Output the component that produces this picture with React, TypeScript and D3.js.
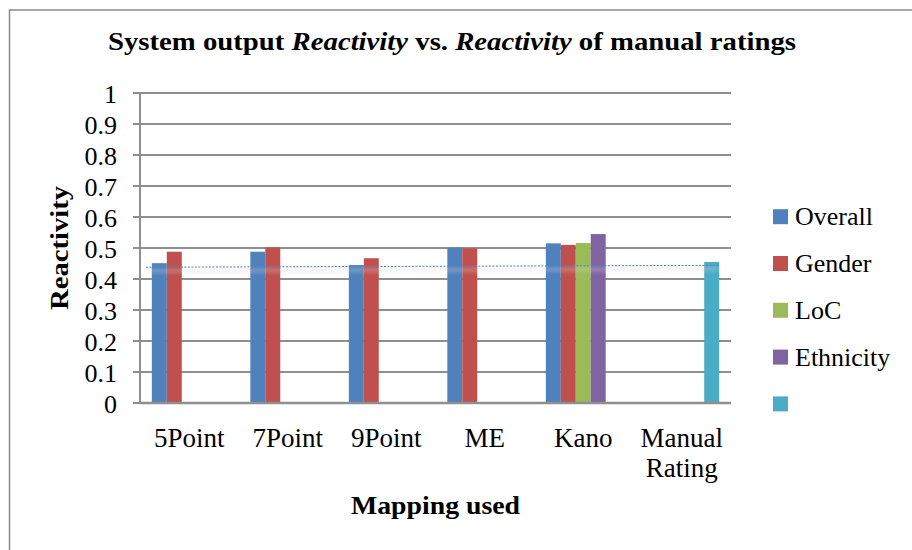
import React from "react";
import * as d3 from "d3";

const categories = ["5Point", "7Point", "9Point", "ME", "Kano", "Manual Rating"];
const seriesNames = ["Overall", "Gender", "LoC", "Ethnicity", ""];
const overall = [0.451, 0.488, 0.445, 0.501, 0.515, null];
const gender = [0.488, 0.502, 0.467, 0.499, 0.51, null];
const loc = [null, null, null, null, 0.516, null];
const ethnicity = [null, null, null, null, 0.545, null];
const manualRating = [null, null, null, null, null, 0.455];
const seriesColors = ["#4f81bd", "#c0504d", "#9bbb59", "#8064a2", "#4bacc6"];
const yTicks = [0, 0.1, 0.2, 0.3, 0.4, 0.5, 0.6, 0.7, 0.8, 0.9, 1];
// dotted reference line: [category-position, value]
const refLine: [number, number][] = [
  [0.06, 0.438],
  [5.87, 0.444],
];

const W = 912;
const H = 550;
const plot = { left: 140, right: 731, top: 93, bottom: 403 };
const FONT = "'Liberation Serif', 'Times New Roman', serif";

export default function App() {
  const allSeries = [overall, gender, loc, ethnicity, manualRating];
  const x = d3
    .scaleBand<string>()
    .domain(categories)
    .range([plot.left, plot.right])
    .paddingInner(0.24)
    .paddingOuter(0.12);
  const xs = d3
    .scaleBand<number>()
    .domain(d3.range(allSeries.length))
    .range([0, x.bandwidth()])
    .padding(0);
  const y = d3.scaleLinear().domain([0, 1]).range([plot.bottom, plot.top]);
  const xc = d3.scaleLinear().domain([0, categories.length]).range([plot.left, plot.right]);
  const lineGen = d3
    .line<[number, number]>()
    .x((d) => xc(d[0]))
    .y((d) => y(d[1]));

  const gridColor = "#8f8f8f";
  const legendY0 = 216.7;
  const legendStep = 46.8;

  return (
    <svg
      width={W}
      height={H}
      style={{ position: "absolute", left: 0, top: 0, background: "#fff" }}
      fontFamily={FONT}
    >
      <defs>
        <filter id="blur" x="-10%" y="-200%" width="120%" height="500%">
          <feGaussianBlur stdDeviation="2" />
        </filter>
      </defs>
      <rect x={0} y={0} width={W} height={H} fill="#fff" />
      <rect x={9.5} y={10} width={W + 20} height={H + 20} fill="none" stroke="#8a8a8a" strokeWidth={1.5} />

      <text
        x={452}
        y={50}
        textAnchor="middle"
        fontSize={26}
        fontWeight="bold"
        textLength={688}
        lengthAdjust="spacingAndGlyphs"
      >
        System output <tspan fontStyle="italic">Reactivity</tspan> vs. <tspan fontStyle="italic">Reactivity</tspan> of manual ratings
      </text>

      {/* gridlines */}
      {yTicks.map((t) => (
        <g key={t}>
          <line x1={plot.left} x2={plot.right} y1={y(t)} y2={y(t)} stroke={gridColor} strokeWidth={2} />
          <line x1={plot.left - 7} x2={plot.left} y1={y(t)} y2={y(t)} stroke={gridColor} strokeWidth={2} />
          <text x={117} y={y(t) + 10} textAnchor="end" fontSize={26} fill="#000">
            {d3.format("")(t)}
          </text>
        </g>
      ))}
      <line x1={plot.left} x2={plot.left} y1={plot.top} y2={plot.bottom + 1} stroke={gridColor} strokeWidth={2} />

      {/* bars */}
      {allSeries.map((s, si) =>
        s.map((v, ci) =>
          v == null ? null : (
            <rect
              key={`${si}-${ci}`}
              x={(x(categories[ci]) as number) + (xs(si) as number)}
              y={y(v)}
              width={xs.bandwidth()}
              height={y(0) - y(v)}
              fill={seriesColors[si]}
            />
          )
        )
      )}

      {/* x axis */}
      <line x1={plot.left} x2={plot.right} y1={plot.bottom} y2={plot.bottom} stroke={gridColor} strokeWidth={2.5} />

      {/* dotted line with shadow */}
      <path
        d={lineGen(refLine.map((d) => [d[0], d[1] - 0.012]) as [number, number][]) || ""}
        stroke="#d8d8d8"
        strokeWidth={3}
        fill="none"
        filter="url(#blur)"
        opacity={0.45}
      />
      <path d={lineGen(refLine) || ""} stroke="#4f81bd" strokeWidth={1} strokeDasharray="2,1.5" fill="none" />

      {/* category labels */}
      {categories.map((c) => {
        const cx = (x(c) as number) + x.bandwidth() / 2;
        const parts = c === "Manual Rating" ? ["Manual", "Rating"] : [c];
        return (
          <text key={c} x={cx} y={447} textAnchor="middle" fontSize={27} fill="#000">
            {parts.map((p, i) => (
              <tspan key={p} x={cx} dy={i === 0 ? 0 : 30}>
                {p}
              </tspan>
            ))}
          </text>
        );
      })}

      <text
        x={(plot.left + plot.right) / 2}
        y={514}
        textAnchor="middle"
        fontSize={26}
        fontWeight="bold"
        textLength={169}
        lengthAdjust="spacingAndGlyphs"
      >
        Mapping used
      </text>
      <text
        transform={`translate(68, ${(plot.top + plot.bottom) / 2}) rotate(-90)`}
        textAnchor="middle"
        fontSize={26}
        fontWeight="bold"
        textLength={124}
        lengthAdjust="spacingAndGlyphs"
      >
        Reactivity
      </text>

      {/* legend */}
      {seriesNames.map((n, i) => {
        const cy = legendY0 + i * legendStep;
        return (
          <g key={i}>
            <rect x={773} y={cy - 7.5} width={15} height={15} fill={seriesColors[i]} />
            {n && (
              <text x={795} y={cy + 8.5} fontSize={26} fill="#000">
                {n}
              </text>
            )}
          </g>
        );
      })}
    </svg>
  );
}
